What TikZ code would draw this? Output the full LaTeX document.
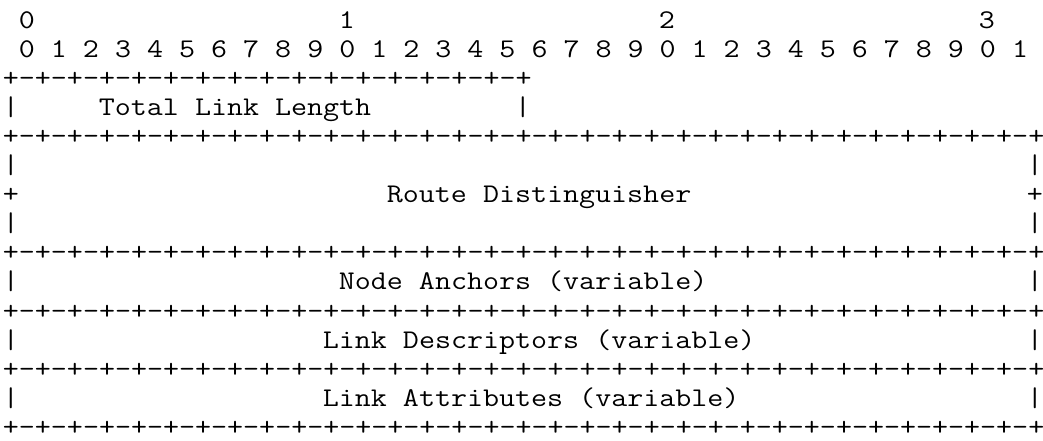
\documentclass[tikz,border=0pt]{standalone}
\begin{document}
\begin{tikzpicture}[x=1pt,y=1pt,
  txt/.style={anchor=base west,inner sep=0pt,outer sep=0pt,xscale=1.1522,transform shape,
    font=\ttfamily\fontsize{27}{29}\selectfont}]
\useasboundingbox (0,0) rectangle (1043,-440);
\def\cw{16}
\def\rh{29.1}
\newcommand\putat[4]{\node[txt] (#1) at ({2.9+\cw*#2},{-(28+\rh*#3)}) {#4};}
\def\border{+-+-+-+-+-+-+-+-+-+-+-+-+-+-+-+-+-+-+-+-+-+-+-+-+-+-+-+-+-+-+-+-+}
% header
\putat{h0}{1}{0}{0}
\putat{h1}{21}{0}{1}
\putat{h2}{41}{0}{2}
\putat{h3}{61}{0}{3}
\putat{bits}{1}{1}{0 1 2 3 4 5 6 7 8 9 0 1 2 3 4 5 6 7 8 9 0 1 2 3 4 5 6 7 8 9 0 1}
% total link length
\putat{b2}{0}{2}{+-+-+-+-+-+-+-+-+-+-+-+-+-+-+-+-+}
\putat{l3}{0}{3}{|}
\putat{tll}{6}{3}{Total Link Length}
\putat{r3}{32}{3}{|}
\putat{b4}{0}{4}{\border}
% route distinguisher
\putat{l5}{0}{5}{|}
\putat{r5}{64}{5}{|}
\putat{l6}{0}{6}{+}
\putat{rd}{24}{6}{Route Distinguisher}
\putat{r6}{64}{6}{+}
\putat{l7}{0}{7}{|}
\putat{r7}{64}{7}{|}
\putat{b8}{0}{8}{\border}
% node anchors
\putat{l9}{0}{9}{|}
\putat{na}{21}{9}{Node Anchors (variable)}
\putat{r9}{64}{9}{|}
\putat{b10}{0}{10}{\border}
% link descriptors
\putat{l11}{0}{11}{|}
\putat{ld}{20}{11}{Link Descriptors (variable)}
\putat{r11}{64}{11}{|}
\putat{b12}{0}{12}{\border}
% link attributes
\putat{l13}{0}{13}{|}
\putat{la}{20}{13}{Link Attributes (variable)}
\putat{r13}{64}{13}{|}
\putat{b14}{0}{14}{\border}
\end{tikzpicture}
\end{document}
